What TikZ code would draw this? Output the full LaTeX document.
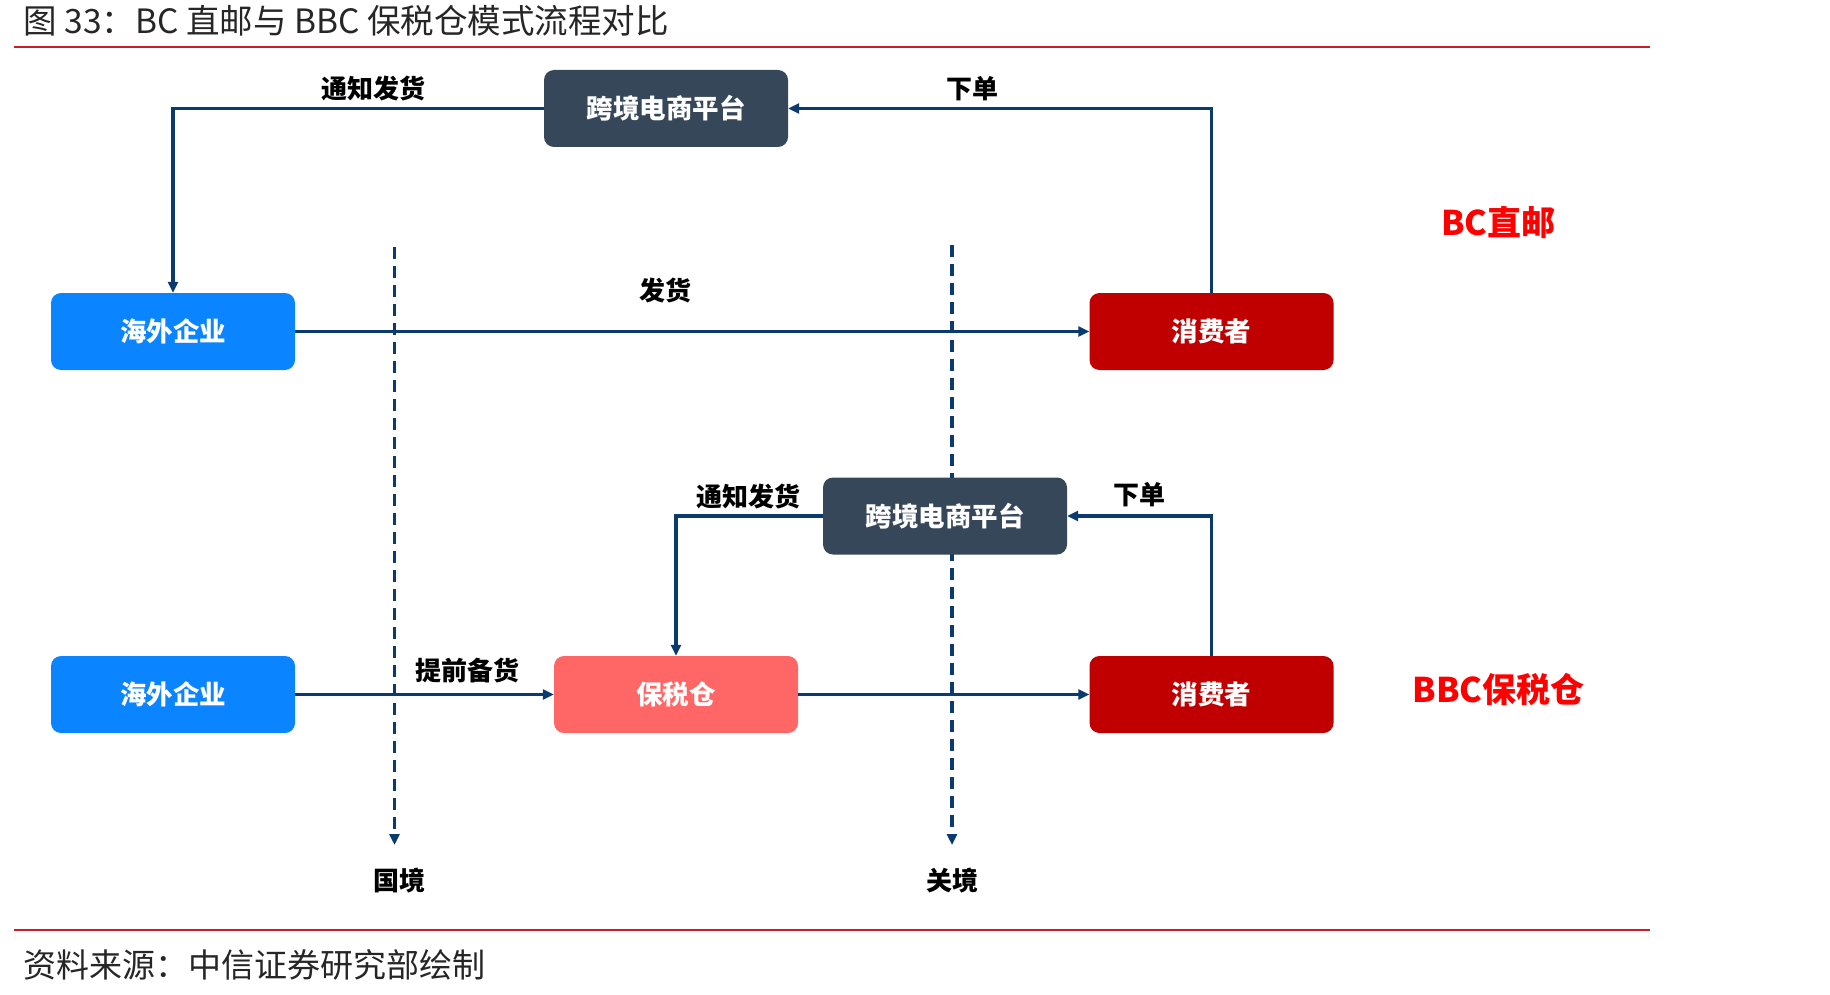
\documentclass[tikz,border=0pt]{standalone}
\usepackage{fontspec}
\setmainfont{Noto Sans CJK SC}
\usetikzlibrary{arrows.meta}
\usetikzlibrary{positioning}
\definecolor{slate}{HTML}{36475A}
\definecolor{skyblue}{HTML}{0A84FF}
\definecolor{darkred}{HTML}{C00000}
\definecolor{salmon}{HTML}{FF6666}
\definecolor{navy}{HTML}{0B3B6E}
\definecolor{rulered}{HTML}{C8202A}
\tikzset{>={Triangle[length=11pt,width=10pt]},
  box/.style = {rounded corners=10pt,minimum width=244pt,minimum height=77pt,inner sep=0pt,
                text=white,font=\fontsize{26.5}{26.5}\selectfont\bfseries},
  platform/.style = {box,fill=slate},
  firm/.style = {box,fill=skyblue},
  buyer/.style = {box,fill=darkred},
  bonded/.style = {box,fill=salmon},
  flow/.style = {draw=navy,line width=3.6pt},
  border/.style = {draw=navy,line width=3.6pt,dash pattern=on 12pt off 7pt},
  lbl/.style = {font=\fontsize{26}{26}\selectfont\bfseries,text=black},
  mode/.style = {font=\fontsize{34}{34}\selectfont\bfseries,text=red},
  rule/.style = {draw=rulered,line width=2pt}
}

\begin{document}
\begin{tikzpicture}[x=1pt,y=-1pt]
  \useasboundingbox (0,0) rectangle (1830,995);
  % title and rules
  \node[anchor=west,font=\fontsize{33.5}{33.5}\selectfont,text=black!85] (title) at (20,21) {图 33：BC 直邮与 BBC 保税仓模式流程对比};
  \draw[rule] (14,47) -- (1650,47);
  \draw[rule] (14,930) -- (1650,930);
  \node[anchor=west,font=\fontsize{33}{33}\selectfont,text=black!85] (source) at (20,965) {资料来源：中信证券研究部绘制};
  % borders
  \coordinate (gtop) at (394.5,247);
  \coordinate (gbot) at (394.5,845);
  \coordinate (ctop) at (952,245);
  \coordinate (cbot) at (952,845);
  \draw[border,->] (gtop) -- (gbot);
  \draw[border,->] (ctop) -- (cbot);
  \node[lbl] (guojing) at (399,881) {国境};
  \node[lbl] (guanjing) at (952,881) {关境};
  % BC direct mail
  \node[platform] (plat1) at (666,108.5) {跨境电商平台};
  \node[firm] (firm1) at (173,331.5) {海外企业};
  \node[buyer] (cons1) at (1211.5,331.5) {消费者};
  \draw[flow,->] (plat1.west) -| (firm1.north);
  \draw[flow,->] (cons1.north) |- (plat1.east);
  \draw[flow,->] (firm1) -- (cons1);
  \node[lbl] (notify1) at (373,89) {通知发货};
  \node[lbl] (order1) at (972,89) {下单};
  \node[lbl] (ship1) at (665,291) {发货};
  \node[mode] (bc) at (1498.5,222) {BC直邮};
  % BBC bonded warehouse
  \node[platform] (plat2) at (945,516) {跨境电商平台};
  \node[firm] (firm2) at (173,694.5) {海外企业};
  \node[bonded] (ware) at (676,694.5) {保税仓};
  \node[buyer] (cons2) at (1211.5,694.5) {消费者};
  \draw[flow,->] (plat2.west) -| (ware.north);
  \draw[flow,->] (cons2.north) |- (plat2.east);
  \draw[flow,->] (firm2) -- (ware);
  \draw[flow,->] (ware) -- (cons2);
  \node[lbl] (notify2) at (748,496) {通知发货};
  \node[lbl] (order2) at (1139,495) {下单};
  \node[lbl] (stock) at (467,670) {提前备货};
  \node[mode] (bbc) at (1498.5,689) {BBC保税仓};
\end{tikzpicture}
\end{document}
